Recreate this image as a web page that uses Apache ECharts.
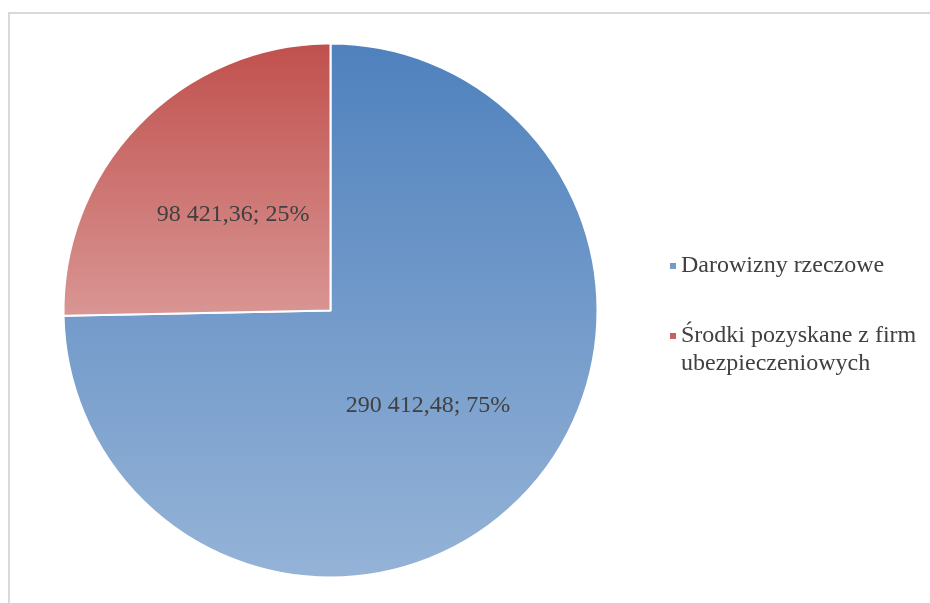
<!DOCTYPE html>
<html>
<head>
<meta charset="utf-8">
<script src="https://cdn.jsdelivr.net/npm/echarts@6/dist/echarts.min.js"></script>
<style>html,body{margin:0;padding:0;background:#fff}#c{width:930px;height:603px}</style>
</head>
<body>
<div id="c"></div>
<script>
var categories = ['Darowizny rzeczowe', 'Środki pozyskane z firm ubezpieczeniowych'];
var values = [290412.48, 98421.36];
var topColors = ['#4f81bd', '#c0504d'];
var bottomColors = ['#95b3d7', '#d99694'];

function fmtPL(v) {
  var parts = v.toFixed(2).split('.');
  var intPart = parts[0].replace(/\B(?=(\d{3})+(?!\d))/g, ' ');
  return intPart + ',' + parts[1];
}

var chart = echarts.init(document.getElementById('c'), null, {renderer: 'canvas'});
var FONT = "'Liberation Serif', 'Times New Roman', serif";
var legendIcons = [
  'path://M0,0M0,25h6v6h-6zM0,56',
  'path://M0,0M0,11h6v6h-6zM0,56'
];
chart.setOption({
  animation: false,
  backgroundColor: '#ffffff',
  graphic: [{
    type: 'rect',
    shape: {x: 9, y: 13, width: 940, height: 620},
    style: {fill: 'none', stroke: '#d9d9d9', lineWidth: 2},
    silent: true
  }],
  legend: {
    orient: 'vertical',
    left: 670,
    top: 238,
    itemWidth: 6,
    itemHeight: 56,
    itemGap: 28,
    padding: 0,
    selectedMode: false,
    itemStyle: {borderWidth: 0},
    textStyle: {
      fontFamily: FONT,
      fontSize: 24,
      color: '#404040',
      lineHeight: 28,
      width: 256,
      overflow: 'break'
    },
    data: categories.map(function (n, i) { return {name: n, icon: legendIcons[i]}; })
  },
  series: [{
    type: 'pie',
    center: [330.5, 310.5],
    radius: 267,
    startAngle: 90,
    clockwise: true,
    avoidLabelOverlap: false,
    emphasis: {disabled: true},
    itemStyle: {borderColor: '#ffffff', borderWidth: 2},
    label: {
      show: true,
      position: 'inside',
      fontFamily: FONT,
      fontSize: 24,
      color: '#404040',
      formatter: function (p) { return fmtPL(p.value) + '; ' + Math.round(p.percent) + '%'; }
    },
    labelLine: {show: false},
    data: categories.map(function (n, i) {
      return {
        name: n,
        value: values[i],
        itemStyle: {
          color: new echarts.graphic.LinearGradient(0, 0, 0, 1, [
            {offset: 0, color: topColors[i]},
            {offset: 1, color: bottomColors[i]}
          ])
        }
      };
    })
  }]
});
</script>
</body>
</html>
